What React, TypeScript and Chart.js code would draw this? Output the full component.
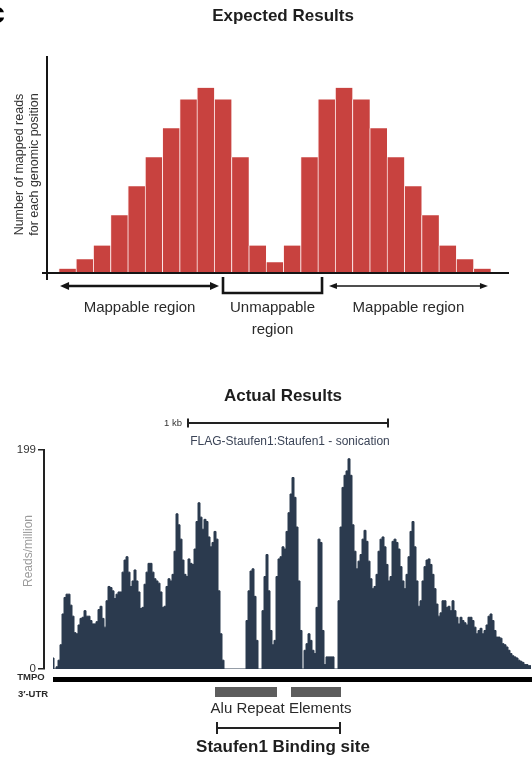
import { useEffect, useRef } from 'react';
import { Chart, registerables } from 'chart.js';

Chart.register(...registerables);

const FONT = '"Liberation Sans", Arial, Helvetica, sans-serif';

// ---------- Panel 1: Expected Results ----------
const expectedPositions = [0, 1, 2, 3, 4, 5, 6, 7, 8, 9, 10, 11, 12, 13, 14, 15, 16, 17, 18, 19, 20, 21, 22, 23, 24];
const expectedCounts = [3, 9.5, 19, 40, 60, 80, 100, 120, 128, 120, 80, 19, 7.5, 19, 80, 120, 128, 120, 100, 80, 60, 40, 19, 9.5, 3];
const expectedYMax = 150;
const mappableLeft = [-0.42, 8.78];
const unmappableSpan = [9.01, 14.74];
const mappableRight = [15.14, 24.34];

// ---------- Panel 2: Actual Results (reads/million, 10 bp bins) ----------
const binBp = 10;
const coverageLeft = [
  10, 0, 2, 8, 22, 50, 65, 68, 68, 58,
  48, 33, 32, 40, 46, 47, 53, 48, 48, 44,
  41, 41, 43, 54, 57, 46, 38, 62, 75, 74,
  71, 64, 68, 70, 70, 88, 99, 102, 88, 75,
  80, 90, 80, 70, 55, 56, 77, 88, 96, 96,
  88, 82, 80, 78, 70, 56, 57, 75, 82, 80,
  86, 107, 141, 131, 118, 99, 86, 84, 100, 96,
  95, 109, 134, 151, 138, 127, 136, 134, 120, 111,
  115, 125, 118, 71, 32, 8,
];
const coverageGap = [0, 0, 0, 0, 0, 0, 0, 0, 0, 0, 0];
const coverageAlu = [
  44, 71, 89, 91, 66, 26, 0, 0, 53, 84,
  104, 71, 35, 22, 26, 84, 100, 102, 111, 109,
  125, 142, 159, 174, 156, 129, 80, 35, 0, 17,
  23, 32, 26, 17, 14, 56, 118, 115, 35, 4,
  11, 11, 11, 11, 0, 0,
];
const coverageRight = [
  62, 129, 165, 176, 180, 191, 176, 131, 107, 91,
  98, 104, 118, 126, 116, 98, 82, 73, 75, 86,
  107, 118, 120, 111, 95, 80, 84, 116, 118, 115,
  109, 93, 80, 73, 86, 102, 125, 134, 111, 80,
  57, 62, 80, 93, 99, 100, 95, 86, 73, 59,
  48, 51, 62, 62, 56, 57, 53, 62, 53, 47,
  41, 47, 44, 42, 40, 47, 47, 44, 38, 32,
  35, 37, 32, 35, 40, 48, 50, 44, 35, 29,
  29, 28, 23, 22, 20, 17, 14, 12, 11, 10,
  8, 7, 6, 4, 4, 3, 3,
];
const coverage = [...coverageLeft, ...coverageGap, ...coverageAlu, ...coverageRight];
const yTicksActual = [0, 199];
const scaleBarBp = [680, 1680];
const trackLabelBp = 1190;
const geneSpanBp = [5, 2400];
const aluRepeatsBp = [[815, 1125], [1195, 1445]];
const aluLabelBp = 1145;
const bindingSiteBp = [825, 1440];

function drawArrow(ctx: CanvasRenderingContext2D, x1: number, x2: number, y: number, lw: number, head: number, hw: number) {
  ctx.lineWidth = lw;
  ctx.beginPath();
  ctx.moveTo(x1 + head * 0.7, y);
  ctx.lineTo(x2 - head * 0.7, y);
  ctx.stroke();
  ctx.beginPath();
  ctx.moveTo(x1, y);
  ctx.lineTo(x1 + head, y - hw);
  ctx.lineTo(x1 + head, y + hw);
  ctx.closePath();
  ctx.fill();
  ctx.beginPath();
  ctx.moveTo(x2, y);
  ctx.lineTo(x2 - head, y - hw);
  ctx.lineTo(x2 - head, y + hw);
  ctx.closePath();
  ctx.fill();
}

const expectedDecor = {
  id: 'expectedDecor',
  afterDatasetsDraw(chart: any) {
    const { ctx, chartArea: a, scales } = chart;
    const x = scales.x;
    const px = (v: number) => x.getPixelForValue(v);
    ctx.save();
    ctx.strokeStyle = '#151515';
    ctx.fillStyle = '#151515';
    ctx.lineWidth = 2;
    ctx.beginPath();
    ctx.moveTo(a.left, a.top);
    ctx.lineTo(a.left, a.bottom + 7);
    ctx.moveTo(a.left - 5, a.bottom);
    ctx.lineTo(a.right, a.bottom);
    ctx.stroke();

    const ay = a.bottom + 13;
    drawArrow(ctx, px(mappableLeft[0]), px(mappableLeft[1]), ay, 2.6, 9, 4);
    drawArrow(ctx, px(mappableRight[0]), px(mappableRight[1]), ay, 1.3, 8, 3);

    const b0 = px(unmappableSpan[0]);
    const b1 = px(unmappableSpan[1]);
    ctx.lineWidth = 2.6;
    ctx.beginPath();
    ctx.moveTo(b0, a.bottom + 4);
    ctx.lineTo(b0, a.bottom + 20);
    ctx.lineTo(b1, a.bottom + 20);
    ctx.lineTo(b1, a.bottom + 4);
    ctx.stroke();

    ctx.fillStyle = '#2a2a2a';
    ctx.font = `15px ${FONT}`;
    ctx.textAlign = 'center';
    ctx.textBaseline = 'middle';
    ctx.fillText('Mappable region', (px(mappableLeft[0]) + px(mappableLeft[1])) / 2, a.bottom + 35);
    ctx.fillText('Unmappable', (b0 + b1) / 2, a.bottom + 35);
    ctx.fillText('region', (b0 + b1) / 2, a.bottom + 57);
    ctx.fillText('Mappable region', (px(mappableRight[0]) + px(mappableRight[1])) / 2, a.bottom + 35);

    ctx.fillStyle = '#1e1e1e';
    ctx.font = `bold 17px ${FONT}`;
    ctx.fillText('Expected Results', 283, 16);

    ctx.fillStyle = '#000';
    ctx.font = `bold 30px ${FONT}`;
    ctx.textAlign = 'right';
    ctx.textBaseline = 'alphabetic';
    ctx.fillText('c', 5, 23);
    ctx.restore();
  },
};

const actualDecor = {
  id: 'actualDecor',
  afterDatasetsDraw(chart: any) {
    const { ctx, chartArea: a, scales } = chart;
    const x = scales.x;
    const px = (v: number) => x.getPixelForValue(v);
    ctx.save();
    ctx.textAlign = 'center';
    ctx.textBaseline = 'middle';

    ctx.fillStyle = '#1e1e1e';
    ctx.font = `bold 17px ${FONT}`;
    ctx.fillText('Actual Results', 283, 46);

    // scale bar
    const sy = 73;
    ctx.strokeStyle = '#222';
    ctx.lineWidth = 2;
    ctx.beginPath();
    ctx.moveTo(px(scaleBarBp[0]), sy);
    ctx.lineTo(px(scaleBarBp[1]), sy);
    ctx.moveTo(px(scaleBarBp[0]), sy - 4.5);
    ctx.lineTo(px(scaleBarBp[0]), sy + 4.5);
    ctx.moveTo(px(scaleBarBp[1]), sy - 4.5);
    ctx.lineTo(px(scaleBarBp[1]), sy + 4.5);
    ctx.stroke();
    ctx.fillStyle = '#333';
    ctx.font = `9.5px ${FONT}`;
    ctx.textAlign = 'right';
    ctx.fillText('1 kb', px(scaleBarBp[0]) - 6, sy);

    ctx.textAlign = 'center';
    ctx.fillStyle = '#3b4457';
    ctx.font = `12px ${FONT}`;
    ctx.fillText('FLAG-Staufen1:Staufen1 - sonication', px(trackLabelBp), 92);

    // y title
    ctx.save();
    ctx.translate(29, 201);
    ctx.rotate(-Math.PI / 2);
    ctx.fillStyle = '#9b9b9b';
    ctx.font = `12px ${FONT}`;
    ctx.fillText('Reads/million', 0, 0);
    ctx.restore();

    // gene bar
    ctx.fillStyle = '#000';
    ctx.fillRect(px(geneSpanBp[0]), a.bottom + 8, px(geneSpanBp[1]) - px(geneSpanBp[0]), 5);
    ctx.fillStyle = '#2b2b2b';
    ctx.font = `bold 9.5px ${FONT}`;
    ctx.fillText('TMPO', 31, a.bottom + 8);
    ctx.fillText('3\u2032-UTR', 33, a.bottom + 25);

    // Alu repeats
    ctx.fillStyle = '#5d5d5d';
    aluRepeatsBp.forEach(([s, e]) => {
      ctx.fillRect(px(s), a.bottom + 18, px(e) - px(s), 10);
    });
    ctx.fillStyle = '#2a2a2a';
    ctx.font = `15px ${FONT}`;
    ctx.fillText('Alu Repeat Elements', px(aluLabelBp), a.bottom + 40);

    // binding site
    const by = a.bottom + 59;
    ctx.strokeStyle = '#222';
    ctx.lineWidth = 2;
    ctx.beginPath();
    ctx.moveTo(px(bindingSiteBp[0]), by);
    ctx.lineTo(px(bindingSiteBp[1]), by);
    ctx.moveTo(px(bindingSiteBp[0]), by - 6);
    ctx.lineTo(px(bindingSiteBp[0]), by + 6);
    ctx.moveTo(px(bindingSiteBp[1]), by - 6);
    ctx.lineTo(px(bindingSiteBp[1]), by + 6);
    ctx.stroke();
    ctx.fillStyle = '#1e1e1e';
    ctx.font = `bold 17px ${FONT}`;
    ctx.fillText('Staufen1 Binding site', 283, a.bottom + 78);
    ctx.restore();
  },
};

export default function App() {
  const topRef = useRef<HTMLCanvasElement>(null);
  const botRef = useRef<HTMLCanvasElement>(null);

  useEffect(() => {
    Chart.defaults.font.family = FONT;
    const c1 = new Chart(topRef.current as HTMLCanvasElement, {
      type: 'bar',
      data: {
        datasets: [
          {
            data: expectedPositions.map((p, i) => ({ x: p, y: expectedCounts[i] })),
            backgroundColor: '#c8423f',
            borderColor: 'rgba(255,235,235,0.8)',
            borderWidth: { left: 1, right: 0, top: 0, bottom: 0 },
            barPercentage: 1,
            categoryPercentage: 1,
          } as any,
        ],
      },
      options: {
        animation: false,
        responsive: false,
        maintainAspectRatio: false,
        layout: { padding: { top: 56, left: 12, right: 23, bottom: 77 } },
        plugins: { legend: { display: false }, tooltip: { enabled: false } },
        scales: {
          x: { type: 'linear', display: false, min: -1.175, max: 25.56, offset: false },
          y: {
            min: 0,
            max: expectedYMax,
            ticks: { display: false },
            grid: { display: false },
            border: { display: false },
            title: {
              display: true,
              text: ['Number of mapped reads', 'for each genomic position'],
              color: '#333',
              font: { size: 12.5, lineHeight: 1.2, family: FONT },
              padding: { top: 0.5, bottom: 0 },
            },
            afterFit: (s: any) => {
              s.width = 35;
            },
          },
        },
      } as any,
      plugins: [expectedDecor],
    });

    const c2 = new Chart(botRef.current as HTMLCanvasElement, {
      type: 'line',
      data: {
        datasets: [
          {
            data: coverage.map((v, i) => ({ x: i * binBp + binBp / 2, y: v })),
            stepped: 'middle',
            fill: 'origin',
            backgroundColor: '#2b3a4e',
            borderColor: '#2b3a4e',
            borderWidth: 1,
            pointRadius: 0,
          } as any,
        ],
      },
      options: {
        animation: false,
        responsive: false,
        maintainAspectRatio: false,
        layout: { padding: { top: 100, left: 0, right: 0, bottom: 90 } },
        plugins: { legend: { display: false }, tooltip: { enabled: false } },
        scales: {
          x: { type: 'linear', display: false, min: -40, max: 2400 },
          y: {
            min: 0,
            max: 199,
            afterBuildTicks: (s: any) => {
              s.ticks = yTicksActual.map((v) => ({ value: v }));
            },
            ticks: { color: '#333', font: { size: 11.5, family: FONT }, padding: 2 },
            grid: { display: true, drawOnChartArea: false, drawTicks: true, tickLength: 6, color: '#222', lineWidth: 1.5 },
            border: { display: true, color: '#222', width: 2 },
            afterFit: (s: any) => {
              s.width = 44;
            },
          },
        },
      } as any,
      plugins: [actualDecor],
    });

    return () => {
      c1.destroy();
      c2.destroy();
    };
  }, []);

  return (
    <div style={{ position: 'absolute', left: 0, top: 0, width: 532, height: 759, background: '#fff', overflow: 'hidden' }}>
      <canvas ref={topRef} width={532} height={350} style={{ position: 'absolute', left: 0, top: 0 }} />
      <canvas ref={botRef} width={532} height={409} style={{ position: 'absolute', left: 0, top: 350 }} />
    </div>
  );
}
